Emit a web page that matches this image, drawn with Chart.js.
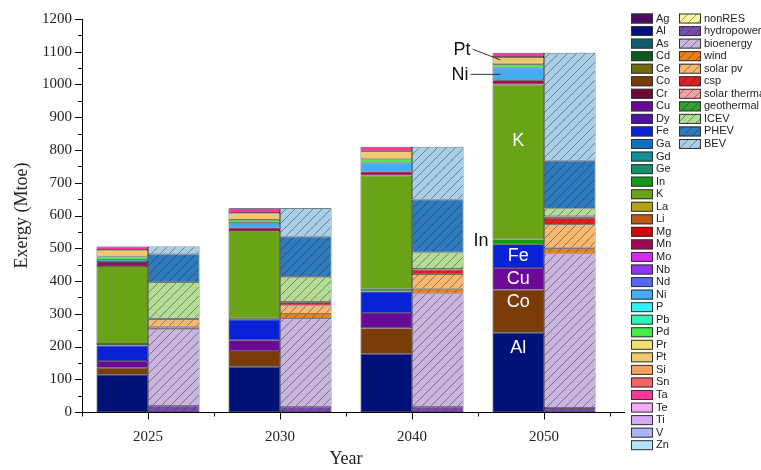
<!DOCTYPE html>
<html>
<head>
<meta charset="utf-8">
<script src="https://cdn.jsdelivr.net/npm/chart.js@4.4.0/dist/chart.umd.min.js"></script>
<style>
  html, body { margin: 0; padding: 0; background: #fff; }
  #wrap { width: 761px; height: 470px; }
</style>
</head>
<body>
<div id="wrap"><canvas id="grafico" width="761" height="470"></canvas></div>
<script>
// anos (categorias)
const anos = ["2025", "2030", "2040", "2050"];

// materiais, na ordem da legenda
const materiais = ["Ag","Al","As","Cd","Ce","Co","Cr","Cu","Dy","Fe","Ga","Gd","Ge","In","K","La","Li",
  "Mg","Mn","Mo","Nb","Nd","Ni","P","Pb","Pd","Pr","Pt","Si","Sn","Ta","Te","Ti","V","Zn"];
const coresMateriais = ["#4d0a62","#00127a","#0f5e6e","#0a5a1e","#6e6a0e","#7a3d0a","#6e0a33","#6a0a96",
  "#4c14a0","#0a22d6","#1070c0","#108e9a","#12906c","#10981c","#6aa318","#b0a414","#b85a14",
  "#cc0a0a","#a00a55","#d22cf0","#9035f0","#5468f8","#44acf2","#30f0f8","#33f2b5","#44ee44",
  "#f0e070","#f0c870","#f2a060","#f86464","#f8389a","#f6aaf6","#d4aaf6","#aab4f8","#b4e2fa"];

// tecnologias, na ordem da legenda
const tecnologias = ["nonRES","hydropower","bioenergy","wind","solar pv","csp","solar therma",
  "geothermal","ICEV","PHEV","BEV"];
const coresTecnologias = ["#f8f8a0","#7a4ab0","#c9b4de","#f08010","#f8b870","#e02020","#f8a0a0",
  "#30a030","#b2dc92","#2e7bbd","#a9cfe6"];

// exergia por material (Mtoe) - materiais sem valor ficam em zero
const valAl = [114, 138, 178, 242];
const valCo = [21, 48, 78, 131];
const valCu = [21, 33, 46, 67];
const valFe = [47, 63, 66, 72];
const valIn = [5, 4, 8, 15];
const valK  = [238, 267, 346, 473];
const valMn = [12, 10, 12, 13];
const valNi = [7, 15, 28, 39];
const valPd = [10, 9, 10, 10];
const valPt = [20, 21, 24, 22];
const valTa = [10, 14, 14, 13];

// exergia por tecnologia (Mtoe)
const valNonRES = [0, 0, 0, 0];
const valHydro = [19, 16, 16, 12];
const valBio = [235, 269, 346, 472];
const valWind = [7, 15, 14, 16];
const valSolarPv = [21, 25, 45, 72];
const valCsp = [4, 10, 14, 21];
const valSolarTherm = [0, 2, 2, 5];
const valGeo = [0, 0, 0, 0];
const valICEV = [110, 76, 50, 23];
const valPHEV = [86, 123, 162, 147];
const valBEV = [23, 86, 161, 329];

const zeros = [0, 0, 0, 0];
const tabelaMateriais = { Al: valAl, Co: valCo, Cu: valCu, Fe: valFe, In: valIn, K: valK,
  Mn: valMn, Ni: valNi, Pd: valPd, Pt: valPt, Ta: valTa };
const tabelaTecnologias = [valNonRES, valHydro, valBio, valWind, valSolarPv, valCsp,
  valSolarTherm, valGeo, valICEV, valPHEV, valBEV];

const serif = '"Liberation Serif", "Times New Roman", serif';
const sans = '"Liberation Sans", Arial, sans-serif';

// padrão hachurado para as tecnologias
function hachura(cor) {
  const c = document.createElement("canvas");
  c.width = 9; c.height = 9;
  const g = c.getContext("2d");
  g.fillStyle = cor;
  g.fillRect(0, 0, 9, 9);
  g.strokeStyle = "rgba(35,35,60,0.6)";
  g.lineWidth = 0.8;
  g.beginPath();
  g.moveTo(0, 9); g.lineTo(9, 0);
  g.moveTo(-2, 2); g.lineTo(2, -2);
  g.moveTo(7, 11); g.lineTo(11, 7);
  g.stroke();
  return g.createPattern(c, "repeat");
}

const semZero = arr => arr.map(v => (v ? v : null));

const datasets = [];
materiais.forEach((m, i) => {
  datasets.push({
    label: m,
    stack: "mat",
    data: semZero(tabelaMateriais[m] || zeros),
    backgroundColor: coresMateriais[i],
    borderColor: "#1c1c28",
    borderWidth: 0.7,
    borderSkipped: false
  });
});
tecnologias.forEach((t, i) => {
  datasets.push({
    label: t,
    stack: "tec",
    data: semZero(tabelaTecnologias[i]),
    backgroundColor: hachura(coresTecnologias[i]),
    borderColor: "#1c1c28",
    borderWidth: 0.7,
    borderSkipped: false
  });
});

// legenda em duas colunas desenhada no canvas
const legendaPlugin = {
  id: "legenda",
  afterDraw(chart) {
    const ctx = chart.ctx;
    ctx.save();
    ctx.font = "11px " + sans;
    ctx.textBaseline = "middle";
    chart.data.datasets.forEach((ds, i) => {
      const tec = ds.stack === "tec";
      const idx = tec ? i - materiais.length : i;
      const x = tec ? 679 : 631;
      const y = 18.5 + idx * 12.55;
      ctx.fillStyle = ds.backgroundColor;
      ctx.fillRect(x, y - 5, 22, 10);
      ctx.strokeStyle = "#333";
      ctx.lineWidth = 1;
      ctx.strokeRect(x + 0.5, y - 4.5, 21, 9);
      ctx.fillStyle = "#222";
      ctx.fillText(ds.label, x + 25, y);
    });
    ctx.restore();
  }
};

// marcas dos eixos
const marcasPlugin = {
  id: "marcas",
  afterDraw(chart) {
    const ctx = chart.ctx;
    const xs = chart.scales.x, ys = chart.scales.y;
    ctx.save();
    ctx.strokeStyle = "#000";
    ctx.lineWidth = 1;
    ctx.beginPath();
    for (let v = 0; v <= 1200; v += 50) {
      const y = Math.round(ys.getPixelForValue(v)) + 0.5;
      const len = v % 100 === 0 ? 7 : 4;
      ctx.moveTo(xs.left - len, y);
      ctx.lineTo(xs.left, y);
    }
    const b = Math.round(ys.bottom) + 0.5;
    anos.forEach((a, i) => {
      const cx = Math.round(xs.getPixelForValue(i)) + 0.5;
      ctx.moveTo(cx, b); ctx.lineTo(cx, b + 7);
    });
    const passo = xs.width / anos.length;
    for (let k = 0; k <= anos.length; k++) {
      const bx = Math.round(xs.left + k * passo) + 0.5;
      ctx.moveTo(bx, b); ctx.lineTo(bx, b + 4);
    }
    // eixo x continua um pouco além
    ctx.moveTo(xs.right, b); ctx.lineTo(xs.right + 15, b);
    ctx.stroke();
    ctx.restore();
  }
};

// rótulos da barra de 2050
const rotulos = [
  { texto: "K", valor: 827 },
  { texto: "Fe", valor: 476 },
  { texto: "Cu", valor: 406 },
  { texto: "Co", valor: 335 },
  { texto: "Al", valor: 194 }
];
const rotulosPlugin = {
  id: "rotulos",
  afterDatasetsDraw(chart) {
    const ctx = chart.ctx;
    const ys = chart.scales.y;
    const barra = chart.getDatasetMeta(materiais.indexOf("K")).data[3];
    const esq = barra.x - barra.width / 2;
    ctx.save();
    ctx.textBaseline = "middle";
    ctx.font = "18px " + sans;
    ctx.fillStyle = "#fff";
    ctx.textAlign = "center";
    rotulos.forEach(r => ctx.fillText(r.texto, barra.x, ys.getPixelForValue(r.valor)));
    ctx.fillStyle = "#111";
    ctx.textAlign = "right";
    ctx.fillText("In", esq - 4, ys.getPixelForValue(523));
    ctx.fillText("Pt", esq - 22, ys.getPixelForValue(1106));
    ctx.fillText("Ni", esq - 24, ys.getPixelForValue(1030));
    ctx.strokeStyle = "#333";
    ctx.lineWidth = 1;
    ctx.beginPath();
    ctx.moveTo(esq - 20, ys.getPixelForValue(1108));
    ctx.lineTo(esq + 8, ys.getPixelForValue(1075));
    ctx.moveTo(esq - 22, ys.getPixelForValue(1031));
    ctx.lineTo(esq + 8, ys.getPixelForValue(1031));
    ctx.stroke();
    ctx.restore();
  }
};

new Chart(document.getElementById("grafico"), {
  type: "bar",
  data: { labels: anos, datasets: datasets },
  plugins: [legendaPlugin, marcasPlugin, rotulosPlugin],
  options: {
    responsive: false,
    animation: false,
    layout: { padding: { left: 0, top: 17, right: 151, bottom: 0 } },
    datasets: { bar: { categoryPercentage: 0.78, barPercentage: 1 } },
    plugins: { legend: { display: false }, tooltip: { enabled: false } },
    scales: {
      x: {
        stacked: true,
        grid: { display: false, drawTicks: false },
        border: { display: true, color: "#000", width: 1 },
        ticks: { color: "#222", font: { family: serif, size: 15 }, padding: 16 },
        title: { display: true, text: "Year", color: "#222", font: { family: serif, size: 18 }, padding: { top: 0, bottom: 0 } },
        afterFit(s) { s.height = 58; }
      },
      y: {
        stacked: true,
        min: 0,
        max: 1200,
        grid: { display: false, drawTicks: false },
        border: { display: true, color: "#000", width: 1 },
        ticks: { stepSize: 100, color: "#222", font: { family: serif, size: 15 }, padding: 10,
          callback: v => String(v) },
        title: { display: true, text: "Exergy (Mtoe)", color: "#222", font: { family: serif, size: 18 }, padding: { top: 11, bottom: 0 } },
        afterFit(s) { s.width = 82; }
      }
    }
  }
});
</script>
</body>
</html>
